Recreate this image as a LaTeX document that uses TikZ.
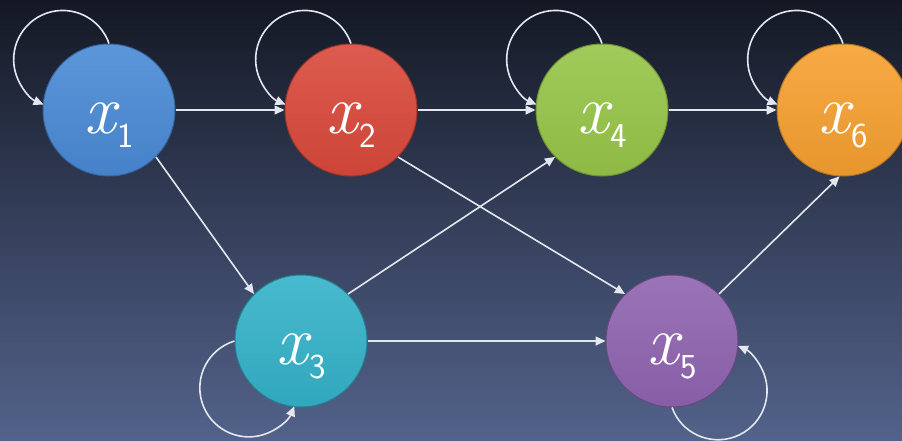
\documentclass[tikz,border=0pt]{standalone}
\usetikzlibrary{arrows.meta}
\definecolor{bgA}{HTML}{6B7CAB}
\definecolor{bgB}{HTML}{53628A}
\definecolor{bgC}{HTML}{343F5A}
\definecolor{bgD}{HTML}{141824}
\definecolor{bgE}{HTML}{030305}
\definecolor{linec}{HTML}{E4E7EF}
\definecolor{cA}{HTML}{4A8AD6}
\definecolor{cB}{HTML}{D9493B}
\definecolor{cC}{HTML}{34B2C9}
\definecolor{cD}{HTML}{96C548}
\definecolor{cE}{HTML}{9064B0}
\definecolor{cF}{HTML}{F6A030}
\pgfdeclareverticalshading{bgshade}{100bp}{color(0bp)=(bgA); color(25bp)=(bgB); color(50bp)=(bgC); color(75bp)=(bgD); color(100bp)=(bgE)}
\newcommand\subdigit[1]{\raisebox{-14pt}{\fontsize{35}{35}\selectfont\sffamily\upshape #1}}
\begin{document}
\begin{tikzpicture}[x=1pt,y=-1pt,
  ball/.style={circle, minimum size=132pt, inner sep=0pt, draw=#1!72!black, line width=1pt,
    top color=#1!90!white, bottom color=#1!94!black},
  lbl/.style={text=white, inner sep=0pt, font=\fontsize{70}{70}\selectfont},
  arr/.style={draw=linec, line width=1.6pt, -{Triangle[length=10pt,width=9pt]}}]
\useasboundingbox (0,0) rectangle (902,440);
\clip (0,0) rectangle (902,440);
\shade[shading=bgshade] (0,0) rectangle (902,440);

\node[ball=cA] (x1) at (109,110) {};
\node[ball=cB] (x2) at (351,110) {};
\node[ball=cD] (x4) at (602,110) {};
\node[ball=cF] (x6) at (843,110) {};
\node[ball=cC] (x3) at (301,341) {};
\node[ball=cE] (x5) at (672,341) {};

\node[lbl] (l1) at ([yshift=-15pt]x1) {\itshape x\kern2pt\subdigit{1}};
\node[lbl] (l2) at ([yshift=-15pt]x2) {\itshape x\kern2pt\subdigit{2}};
\node[lbl] (l4) at ([yshift=-15pt]x4) {\itshape x\kern2pt\subdigit{4}};
\node[lbl] (l6) at ([yshift=-15pt]x6) {\itshape x\kern2pt\subdigit{6}};
\node[lbl] (l3) at ([yshift=-15pt]x3) {\itshape x\kern2pt\subdigit{3}};
\node[lbl] (l5) at ([yshift=-15pt]x5) {\itshape x\kern2pt\subdigit{5}};

\draw[arr] (x1) -- (x2);
\draw[arr] (x2) -- (x4);
\draw[arr] (x4) -- (x6);
\draw[arr] (x3) -- (x5);
\draw[arr] (x1.-45) -- (x3.135);
\draw[arr] (x2.-45) -- (x5.135);
\draw[arr] (x3.45) -- (x4.-135);
\draw[arr] (x5.45) -- (x6.-93);

\draw[arr] (x1.90) arc[start angle=19, end angle=247, radius=49pt];
\draw[arr] (x2.90) arc[start angle=19, end angle=247, radius=49pt];
\draw[arr] (x4.90) arc[start angle=19, end angle=247, radius=49pt];
\draw[arr] (x6.90) arc[start angle=19, end angle=247, radius=49pt];
\draw[arr] (x3.180) arc[start angle=107, end angle=338, radius=49pt];
\draw[arr] (x5.-90) arc[start angle=200, end angle=426, radius=49pt];
\end{tikzpicture}
\end{document}
